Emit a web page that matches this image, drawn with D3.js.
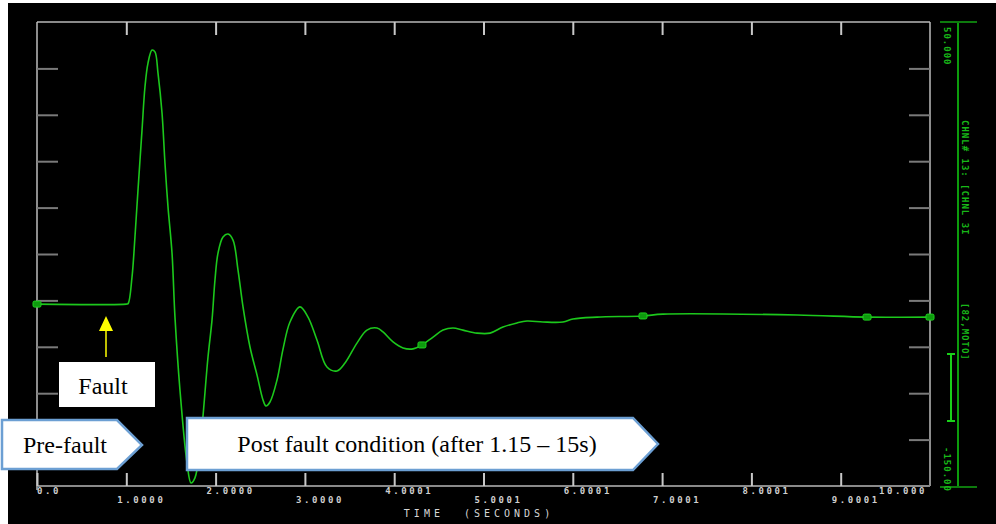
<!DOCTYPE html>
<html><head><meta charset="utf-8">
<script src="https://cdn.jsdelivr.net/npm/d3@7"></script>
<style>html,body{margin:0;padding:0;background:#fff;}svg{display:block;}</style>
</head><body>
<script>
// ---- data ----
const timeS = [0,1.0,1.02,1.064,1.097,1.131,1.176,1.209,1.243,1.288,1.321,1.355,1.400,1.433,1.467,1.512,1.545,1.601,1.680,1.725,1.769,1.825,1.915,1.960,1.993,2.027,2.083,2.139,2.195,2.251,2.307,2.385,2.464,2.531,2.564,2.609,2.688,2.755,2.833,2.945,3.035,3.135,3.247,3.359,3.449,3.583,3.695,3.807,3.875,3.987,4.099,4.211,4.311,4.435,4.547,4.658,4.770,4.927,5.073,5.218,5.375,5.487,5.666,5.890,6.002,6.271,6.786,7.010,8.511,9.295,10.0];
const angleVal = [-71.6,-71.6,-71.4,-59.9,-42.7,-22.4,3.4,22.0,32.3,37.9,37.1,28.0,10.8,-10.8,-29.7,-49.6,-77.2,-108.6,-140.1,-148.7,-146.5,-133.2,-94.4,-78.4,-61.2,-49.6,-42.7,-41.4,-44.0,-56.9,-72.8,-90.1,-102.2,-112.9,-115.5,-113.8,-104.3,-91.0,-79.3,-72.8,-77.2,-87.1,-98.7,-100.4,-97.0,-88.4,-82.8,-81.9,-83.6,-87.9,-90.5,-90.9,-89.2,-85.8,-82.8,-81.9,-82.8,-84.1,-84.1,-81.5,-79.7,-78.9,-79.3,-79.3,-78.0,-77.2,-76.7,-75.9,-76.3,-77.2,-77.2];
const markerT = [0,4.311,6.786,9.295,10.0];
const markerV = [-71.6,-89.2,-76.7,-77.2,-77.2];
const xTicks = [0,1,2,3,4,5,6,7,8,9,10];
const xTickLabels = ["0.0","1.0000","2.0000","3.0000","4.0001","5.0001","6.0001","7.0001","8.0001","9.0001","10.000"];
const yTicks = [-130,-110,-90,-70,-50,-30,-10,10,30];
const yMin = -150, yMax = 50;
const yLabelTop = "50.000", yLabelBottom = "-150.00";
const channelLabel1 = "CHNL# 13: [CHNL 3I", channelLabel2 = "[82,MOTO]";
const xTitle = "TIME  (SECONDS)";
const faultLabel = "Fault";
const preLabel = "Pre-fault";
const postLabel = "Post fault condition (after 1.15 – 15s)";

// ---- chart ----
const W = 996, H = 524;
const svg = d3.select("body").append("svg").attr("width", W).attr("height", H);
svg.append("rect").attr("width", W).attr("height", H).attr("fill", "#fff");
svg.append("rect").attr("x", 8).attr("y", 3).attr("width", W - 8).attr("height", H - 3).attr("fill", "#000");

const x = d3.scaleLinear().domain([0, 10]).range([37, 930]);
const y = d3.scaleLinear().domain([yMin, yMax]).range([486, 22]);

const gray = "#bdbdbd", tickGray = "#7a7a7a";

// frame
const frame = svg.append("g");
frame.append("line").attr("x1", x(0)).attr("x2", x(10)).attr("y1", y(yMax)).attr("y2", y(yMax)).attr("stroke", "#8a8a8a").attr("stroke-width", 2);
frame.append("line").attr("x1", x(0)).attr("x2", x(0)).attr("y1", y(yMax)).attr("y2", y(yMin) + 4).attr("stroke", gray).attr("stroke-width", 1.5);
frame.append("line").attr("x1", x(10)).attr("x2", x(10)).attr("y1", y(yMax)).attr("y2", y(yMin)).attr("stroke", gray).attr("stroke-width", 1.5);
frame.append("line").attr("x1", x(0)).attr("x2", x(10)).attr("y1", y(yMin)).attr("y2", y(yMin)).attr("stroke", "#8a8a8a").attr("stroke-width", 2);

function styleAxis(g, col) {
  g.select(".domain").remove();
  g.selectAll(".tick line").attr("stroke", col).attr("stroke-width", 2);
  g.selectAll(".tick text").remove();
}
svg.append("g").attr("transform", `translate(${x(0)},0)`)
  .call(d3.axisLeft(y).tickValues(yTicks).tickSize(-21).tickFormat(""))
  .call(g => styleAxis(g, tickGray));
svg.append("g").attr("transform", `translate(${x(10)},0)`)
  .call(d3.axisRight(y).tickValues(yTicks).tickSize(-21).tickFormat(""))
  .call(g => styleAxis(g, tickGray));
svg.append("g").attr("transform", `translate(0,${y(yMax)})`)
  .call(d3.axisTop(x).tickValues(xTicks.slice(1, -1)).tickSize(-13).tickFormat(""))
  .call(g => styleAxis(g, "#c8c8c8"));
svg.append("g").attr("transform", `translate(0,${y(yMin)})`)
  .call(d3.axisBottom(x).tickValues(xTicks.slice(0, -1)).tickSize(-13).tickFormat(""))
  .call(g => styleAxis(g, "#c8c8c8"));

// x tick labels (alternating rows)
svg.append("g").selectAll("text").data(xTicks).join("text")
  .attr("x", (d, i) => i === xTicks.length - 1 ? x(d) - 3 : (i === 0 ? x(d) : x(d) - 9))
  .attr("y", (d, i) => i % 2 === 0 ? 494 : 503)
  .attr("text-anchor", (d, i) => i === xTicks.length - 1 ? "end" : "start")
  .attr("font-family", "DejaVu Sans Mono, monospace").attr("font-size", 9).attr("font-weight", "bold")
  .attr("letter-spacing", 2.6).attr("fill", "#cfcfcf")
  .text((d, i) => xTickLabels[i]);
svg.append("text").attr("x", 479).attr("y", 517).attr("text-anchor", "middle")
  .attr("font-family", "DejaVu Sans Mono, monospace").attr("font-size", 10)
  .attr("letter-spacing", 4).attr("fill", "#d6d6d6")
  .style("white-space", "pre").text(xTitle);

// right green channel axis
const green = "#1cc81c";
const ch = svg.append("g");
ch.append("line").attr("x1", 958).attr("x2", 958).attr("y1", y(yMax)).attr("y2", y(yMin) + 1).attr("stroke", "#10d010").attr("stroke-width", 1.5);
[y(yMax), y(yMin) + 1].forEach(yy => ch.append("line").attr("x1", 940).attr("x2", 977).attr("y1", yy).attr("y2", yy).attr("stroke", "#0d7a0d").attr("stroke-width", 2));
function vtext(tx, ty, s) {
  ch.append("text").attr("transform", `translate(${tx},${ty}) rotate(90)`)
    .attr("font-family", "DejaVu Sans Mono, monospace").attr("font-size", 9).attr("font-weight", "bold")
    .attr("letter-spacing", 1).attr("fill", "#18b818").style("white-space", "pre").text(s);
}
vtext(944, 27, yLabelTop);
vtext(962, 120, channelLabel1);
vtext(962, 303, channelLabel2);
vtext(944, 447, yLabelBottom);
// I-beam marker
const ib = ch.append("g").attr("stroke", "#19d019").attr("stroke-width", 2);
ib.append("line").attr("x1", 951).attr("x2", 951).attr("y1", 354).attr("y2", 421);
ib.append("line").attr("x1", 947).attr("x2", 955).attr("y1", 354).attr("y2", 354);
ib.append("line").attr("x1", 947).attr("x2", 955).attr("y1", 421).attr("y2", 421);

// curve
const pts = timeS.map((t, i) => [t, angleVal[i]]);
svg.append("path").datum(pts)
  .attr("d", d3.line().x(d => x(d[0])).y(d => y(d[1])).curve(d3.curveCatmullRom.alpha(0.5)))
  .attr("fill", "none").attr("stroke", green).attr("stroke-width", 1.6);
svg.append("g").selectAll("rect").data(markerT).join("rect")
  .attr("x", d => x(d) - 4).attr("y", (d, i) => y(markerV[i]) - 3)
  .attr("width", 8).attr("height", 6).attr("rx", 1.5)
  .attr("fill", "#0e9a0e").attr("stroke", "#1fd01f").attr("stroke-width", 1);

// annotations
const ann = svg.append("g");
ann.append("line").attr("x1", 106).attr("x2", 106).attr("y1", 357).attr("y2", 330).attr("stroke", "#ffff00").attr("stroke-width", 1.5);
ann.append("path").attr("d", "M106,316 L99,331 L113,331 Z").attr("fill", "#ffff00");
ann.append("rect").attr("x", 59).attr("y", 362).attr("width", 96).attr("height", 45).attr("fill", "#fff");
ann.append("text").attr("x", 103).attr("y", 394).attr("text-anchor", "middle")
  .attr("font-family", "Liberation Serif, Times New Roman, serif").attr("font-size", 24).attr("fill", "#000").text(faultLabel);

ann.append("path").attr("d", "M2,420 L117,420 L142,445 L117,469 L2,469 Z")
  .attr("fill", "#fff").attr("stroke", "#6c9fd3").attr("stroke-width", 2.5);
ann.append("text").attr("x", 65).attr("y", 453).attr("text-anchor", "middle")
  .attr("font-family", "Liberation Serif, Times New Roman, serif").attr("font-size", 24).attr("fill", "#000").text(preLabel);

ann.append("path").attr("d", "M187,418 L633,418 L658,444 L633,470 L187,470 Z")
  .attr("fill", "#fff").attr("stroke", "#6c9fd3").attr("stroke-width", 2.5);
ann.append("text").attr("x", 417).attr("y", 452).attr("text-anchor", "middle")
  .attr("font-family", "Liberation Serif, Times New Roman, serif").attr("font-size", 24).attr("fill", "#000").text(postLabel);
</script>
</body></html>
